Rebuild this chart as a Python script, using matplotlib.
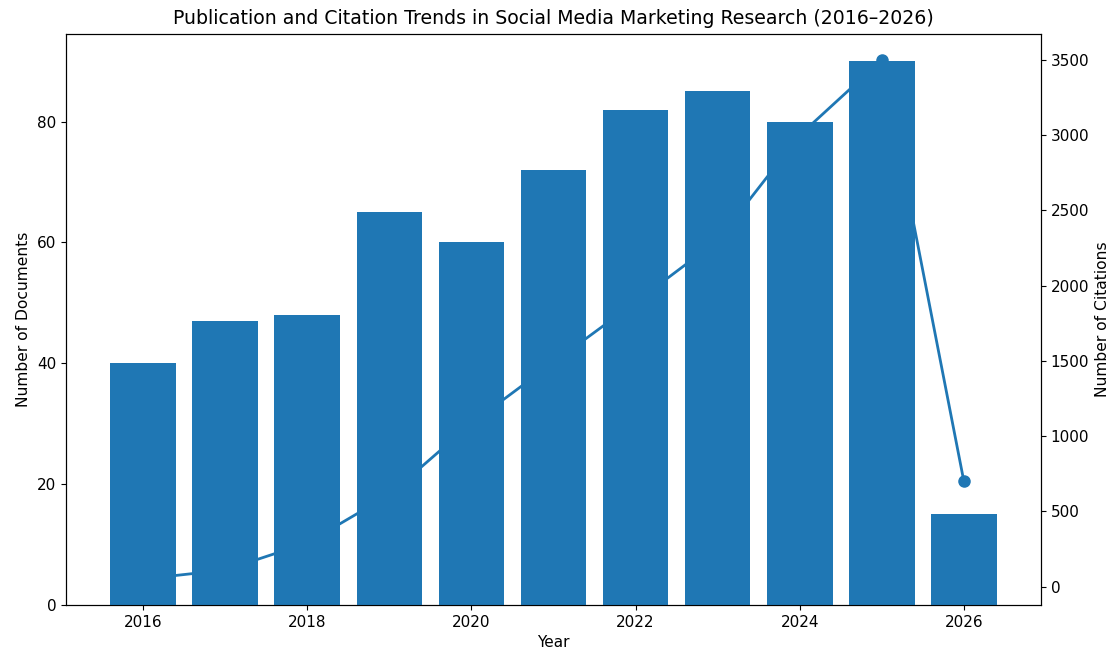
import matplotlib
matplotlib.use("Agg")
import matplotlib.pyplot as plt

years = [2016, 2017, 2018, 2019, 2020, 2021, 2022, 2023, 2024, 2025, 2026]
documents = [40, 47, 48, 65, 60, 72, 82, 85, 80, 90, 15]
citations = [50, 110, 290, 610, 1085, 1490, 1890, 2300, 3000, 3500, 700]

fig = plt.figure(figsize=(11.14, 6.54), dpi=100)
ax1 = fig.add_axes([66/1114, 1 - 605/654, (1041-66)/1114, (605-34)/654])
ax2 = ax1.twinx()

ax1.bar(years, documents, color="#1f77b4")
ax2.plot(years, citations, marker="o", color="#1f77b4", linewidth=2, markersize=8)

ax1.set_zorder(ax2.get_zorder() + 1)
ax1.patch.set_visible(False)

ax1.set_xlabel("Year", fontsize=11)
ax1.set_ylabel("Number of Documents", fontsize=11.2)
ax2.set_ylabel("Number of Citations", fontsize=11.2)
ax1.tick_params(labelsize=11)
ax2.tick_params(labelsize=11)
ax1.set_title("Publication and Citation Trends in Social Media Marketing Research (2016–2026)",
              fontsize=13.6, pad=7)

fig.savefig("out.png", dpi=100)
